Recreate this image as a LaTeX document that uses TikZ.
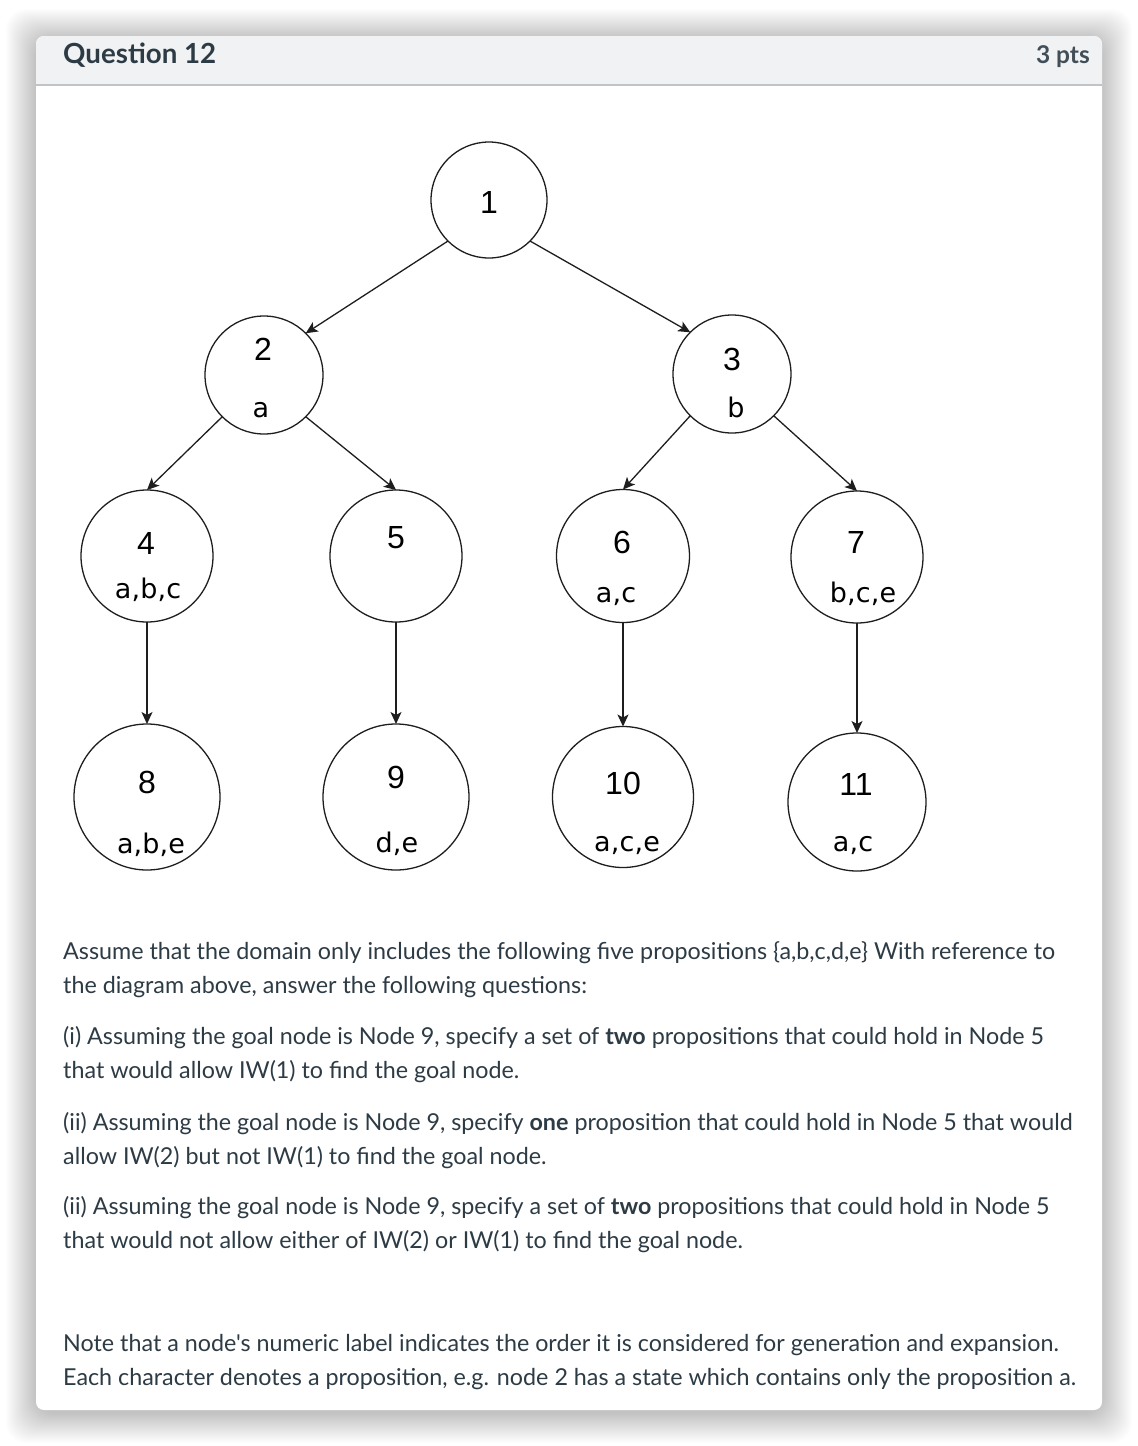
\documentclass[tikz,border=0pt]{standalone}
\usepackage{fontspec}
\usetikzlibrary{arrows.meta}
\newfontfamily\lato{Lato}
\newfontfamily\dignum{Liberation Sans}
\newfontfamily\props[LetterSpace=0.5]{DejaVu Sans}
\definecolor{canvastext}{HTML}{2D3B45}
\definecolor{headbg}{HTML}{F1F2F4}
\definecolor{headline}{HTML}{BFC4C8}
\definecolor{inkc}{HTML}{1E1E1E}
\begin{document}
\begin{tikzpicture}[x=1pt,y=-1pt,
  circ/.style={circle, draw=inkc, line width=1.3pt, inner sep=0pt, outer sep=0pt},
  num/.style={font=\dignum\fontsize{32}{32}\selectfont, anchor=base, inner sep=0pt, text=black},
  prop/.style={font=\props\fontsize{27}{27}\selectfont, anchor=base, inner sep=0pt, text=black},
  conn/.style={draw=inkc, line width=1.3pt, -{Stealth[length=12pt,width=11pt,inset=3pt]}},
  body/.style={font=\lato\fontsize{23.3}{28}\selectfont, anchor=base west, inner sep=0pt, text=canvastext}]
\useasboundingbox (0,0) rectangle (1138,1446);
\fill[white] (0,0) rectangle (1138,1446);
% shadow
\foreach \i in {1,...,30} {
  \fill[black, opacity=0.006, rounded corners=20pt] (36-\i,39-\i) rectangle (1102+\i,1413+\i);
}
% card
\fill[white, rounded corners=8pt] (36,36) rectangle (1102,1410);
\begin{scope}
  \clip[rounded corners=8pt] (36,36) rectangle (1102,1410);
  \fill[headbg] (36,36) rectangle (1102,84);
\end{scope}
\draw[headline, line width=2pt] (36,85) -- (1102,85);
\node[anchor=base west, inner sep=0pt, font=\lato\bfseries\fontsize{27.7}{30}\selectfont, text=canvastext] (title) at (63,63) {Question 12};
\node[anchor=base east, inner sep=0pt, font=\lato\bfseries\fontsize{24.5}{28}\selectfont, text=canvastext!90] (pts) at (1090,63) {3 pts};

% tree nodes
\node[circ, minimum size=116pt] (n1) at (489,200) {};
\node[circ, minimum size=118pt] (n2) at (264,375) {};
\node[circ, minimum size=118pt] (n3) at (732,374) {};
\node[circ, minimum size=132pt] (n4) at (147,556) {};
\node[circ, minimum size=132pt] (n5) at (396,556) {};
\node[circ, minimum size=133pt] (n6) at (623,556) {};
\node[circ, minimum size=132pt] (n7) at (857,557) {};
\node[circ, minimum size=146pt] (n8) at (147,797) {};
\node[circ, minimum size=146pt] (n9) at (396,797) {};
\node[circ, minimum size=141pt] (n10) at (623,797) {};
\node[circ, minimum size=138pt] (n11) at (857,802) {};

% labels
\node[num] (l1) at (489,213) {1};
\node[num] (l2) at (263,360) {2};
\node[prop] (p2) at (261,417) {a};
\node[num] (l3) at (732,370) {3};
\node[prop] (p3) at (736,417) {b};
\node[num] (l4) at (146,554) {4};
\node[prop] (p4) at (148,598) {a,b,c};
\node[num] (l5) at (396,548) {5};
\node[num] (l6) at (622,553) {6};
\node[prop] (p6) at (616,602) {a,c};
\node[num] (l7) at (856,553) {7};
\node[prop] (p7) at (863,602) {b,c,e};
\node[num] (l8) at (147,793) {8};
\node[prop] (p8) at (151,853) {a,b,e};
\node[num] (l9) at (396,788) {9};
\node[prop] (p9) at (397,852) {d,e};
\node[num] (l10) at (623,794) {10};
\node[prop] (p10) at (627,851) {a,c,e};
\node[num] (l11) at (856,795) {11};
\node[prop] (p11) at (853,851) {a,c};

% connectors
\draw[conn] (n1.-135) -- (n2.45);
\draw[conn] (n1.-45) -- (n3.135);
\draw[conn] (n2.-135) -- (n4.north);
\draw[conn] (n2.-45) -- (n5.north);
\draw[conn] (n3.-135) -- (n6.north);
\draw[conn] (n3.-45) -- (n7.north);
\draw[conn] (n4.south) -- (n8.north);
\draw[conn] (n5.south) -- (n9.north);
\draw[conn] (n6.south) -- (n10.north);
\draw[conn] (n7.south) -- (n11.north);

% body text
\node[body] (t1) at (63,959) {Assume that the domain only includes the following five propositions \{a,b,c,d,e\} With reference to};
\node[body] (t2) at (63,993) {the diagram above, answer the following questions:};
\node[body] (t3) at (63,1044) {(i) Assuming the goal node is Node 9, specify a set of \textbf{two} propositions that could hold in Node 5};
\node[body] (t4) at (63,1078) {that would allow IW(1) to find the goal node.};
\node[body] (t5) at (63,1130) {(ii) Assuming the goal node is Node 9, specify \textbf{one} proposition that could hold in Node 5 that would};
\node[body] (t6) at (63,1164) {allow IW(2) but not IW(1) to find the goal node.};
\node[body] (t7) at (63,1214) {(ii) Assuming the goal node is Node 9, specify a set of \textbf{two} propositions that could hold in Node 5};
\node[body] (t8) at (63,1248) {that would not allow either of IW(2) or IW(1) to find the goal node.};
\node[body] (t9) at (63,1351) {Note that a node's numeric label indicates the order it is considered for generation and expansion.};
\node[body] (t10) at (63,1385) {Each character denotes a proposition, e.g. node 2 has a state which contains only the proposition a.};
\end{tikzpicture}
\end{document}
